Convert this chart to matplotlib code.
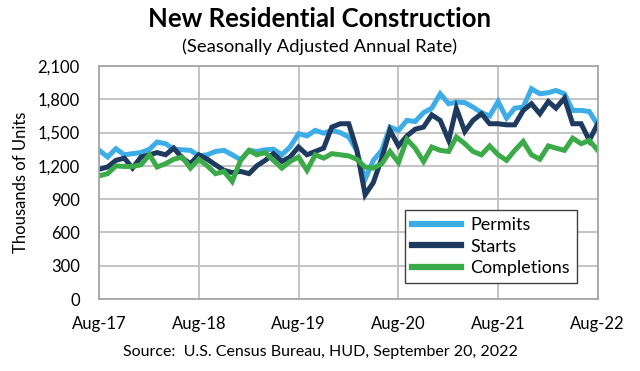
import matplotlib
matplotlib.use("Agg")
import matplotlib.pyplot as plt
import matplotlib.dates as mdates
import pandas as pd

# monthly SAAR, thousands of units, Aug-2017 .. Aug-2022
months = pd.date_range("2017-08-01", periods=61, freq="MS")

permits = [1340, 1280, 1355, 1300, 1310, 1320, 1350, 1415, 1400, 1350, 1345, 1340,
           1290, 1300, 1330, 1340, 1300, 1255, 1340, 1330, 1345, 1350, 1300, 1370,
           1490, 1470, 1520, 1495, 1520, 1500, 1460, 1340, 1080, 1250, 1340, 1550,
           1520, 1610, 1600, 1680, 1720, 1850, 1760, 1775, 1770, 1730, 1680, 1650,
           1780, 1630, 1720, 1730, 1895, 1850, 1860, 1880, 1850, 1700, 1700, 1690,
           1570]

starts = [1170, 1190, 1250, 1270, 1180, 1280, 1300, 1320, 1300, 1360, 1270, 1220,
          1300, 1260, 1210, 1160, 1140, 1150, 1130, 1200, 1250, 1310, 1240, 1280,
          1370, 1300, 1330, 1360, 1550, 1580, 1580, 1350, 940, 1050, 1270, 1520,
          1380, 1470, 1530, 1550, 1660, 1610, 1430, 1720, 1510, 1610, 1670, 1580,
          1580, 1570, 1570, 1700, 1760, 1670, 1780, 1720, 1810, 1580, 1580, 1430,
          1580]

completions = [1110, 1130, 1200, 1195, 1195, 1210, 1300, 1190, 1220, 1260, 1280, 1180,
               1260, 1200, 1130, 1150, 1060, 1250, 1340, 1300, 1320, 1250, 1180, 1240,
               1280, 1160, 1300, 1270, 1310, 1300, 1290, 1260, 1190, 1180, 1220, 1330,
               1230, 1440, 1360, 1240, 1370, 1340, 1330, 1460, 1400, 1330, 1300, 1380,
               1300, 1250, 1340, 1420, 1300, 1260, 1380, 1360, 1340, 1450, 1400, 1430,
               1340]

series = [("Permits", permits, "#3DADE8"),
          ("Starts", starts, "#1F3A5F"),
          ("Completions", completions, "#3BAA48")]

yticks = list(range(0, 2101, 300))

plt.rcParams["font.family"] = ["Lato", "DejaVu Sans"]

fig = plt.figure(figsize=(6.4, 3.71), dpi=100)
ax = fig.add_axes([0.155, 0.194, 0.779, 0.628])

for name, vals, col in series:
    ax.plot(months, vals, color=col, lw=3.6, label=name, solid_joinstyle="miter")

ax.set_ylim(0, 2100)
ax.set_yticks(yticks)
ax.set_yticklabels([f"{v:,}" for v in yticks])
ax.set_xlim(months[0], months[-1])
ax.xaxis.set_major_locator(mdates.MonthLocator(bymonth=8))
ax.xaxis.set_major_formatter(mdates.DateFormatter("%b-%y"))

ax.grid(True, color="#BFBFBF", lw=1.3)
ax.set_axisbelow(True)
for s in ax.spines.values():
    s.set_color("#A6A6A6")
    s.set_linewidth(1.3)
ax.tick_params(axis="both", length=0, labelsize=12)
ax.tick_params(axis="x", pad=12)
ax.tick_params(axis="y", pad=14)
ax.set_ylabel("Thousands of Units", fontsize=12, labelpad=6)

leg = ax.legend(loc="upper right", bbox_to_anchor=(0.958, 0.382), borderaxespad=0,
                fontsize=13, handlelength=2.7, handletextpad=0.5, labelspacing=0.3,
                borderpad=0.4, fancybox=False, framealpha=1, edgecolor="#404040")
leg.get_frame().set_linewidth(1.0)
for h in leg.get_lines():
    h.set_linewidth(4.5)

fig.text(0.5, 0.948, "New Residential Construction", ha="center", va="center",
         fontsize=18.5, fontweight="bold")
fig.text(0.5, 0.873, "(Seasonally Adjusted Annual Rate)", ha="center", va="center",
         fontsize=13.2)
fig.text(0.5, 0.05, "Source:  U.S. Census Bureau, HUD, September 20, 2022",
         ha="center", va="center", fontsize=11.5)

fig.savefig("out.png", dpi=100)
